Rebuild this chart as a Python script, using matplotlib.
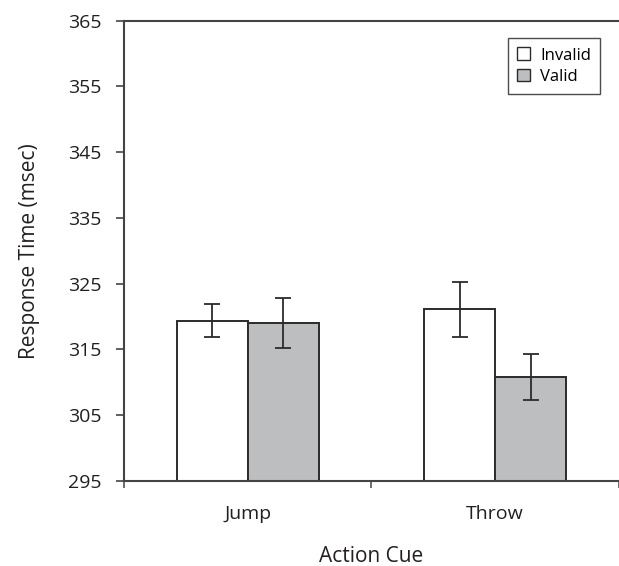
import numpy as np
import matplotlib.pyplot as plt
from matplotlib.patches import Patch

# Data
categories = ['Jump', 'Throw']
invalid_rt = [319.4, 321.1]
invalid_err = [2.5, 4.2]
valid_rt = [319.0, 310.8]
valid_err = [3.8, 3.5]

plt.rcParams['font.family'] = ['Open Sans', 'DejaVu Sans']

fig = plt.figure(figsize=(6.19, 5.66), dpi=100)
ax = fig.add_axes([0.2003, 0.1502, 0.7997, 0.8132])

x = np.arange(len(categories)) + 0.5
w = 0.287
edge = '#2b2b2b'
base = 295

ax.bar(x - w / 2, np.array(invalid_rt) - base, w, bottom=base, color='white',
       edgecolor=edge, linewidth=1.4, zorder=2)
ax.bar(x + w / 2, np.array(valid_rt) - base, w, bottom=base, color='#bcbec0',
       edgecolor=edge, linewidth=1.4, zorder=2)
ax.errorbar(x - w / 2, invalid_rt, yerr=invalid_err, fmt='none', ecolor=edge,
            elinewidth=1.3, capsize=5.5, capthick=1.3, zorder=3)
ax.errorbar(x + w / 2, valid_rt, yerr=valid_err, fmt='none', ecolor=edge,
            elinewidth=1.3, capsize=5.5, capthick=1.3, zorder=3)

ax.set_xlim(0, 2)
ax.set_ylim(295, 365)
ax.set_yticks(np.arange(295, 366, 10))

# category labels sit between the tick marks
ax.set_xticks([0, 1, 2])
ax.set_xticklabels([])
ax.set_xticks(x, minor=True)
ax.set_xticklabels(categories, minor=True)
ax.tick_params(axis='x', which='minor', length=0, pad=17, labelsize=14, colors='#231f20')
ax.tick_params(axis='x', which='major', length=5, width=1.2, direction='out', color='#555555')
ax.tick_params(axis='y', length=6, width=1.2, direction='out', pad=10,
               labelsize=14, color='#444444', labelcolor='#231f20')

for s in ['left', 'bottom', 'top']:
    ax.spines[s].set_color('#444444')
    ax.spines[s].set_linewidth(1.5)
ax.spines['right'].set_visible(False)

ax.set_ylabel('Response Time (msec)', fontsize=15, color='#231f20', labelpad=20)
ax.set_xlabel('Action Cue', fontsize=15, color='#231f20', labelpad=17)

handles = [Patch(facecolor='white', edgecolor=edge, linewidth=1.0, label='Invalid'),
           Patch(facecolor='#bcbec0', edgecolor=edge, linewidth=1.0, label='Valid')]
leg = ax.legend(handles=handles, loc='upper right', bbox_to_anchor=(0.962, 0.962),
                borderaxespad=0, fontsize=12, frameon=True, fancybox=False,
                handlelength=0.8, handleheight=0.8, handletextpad=0.6,
                borderpad=0.55, labelspacing=0.3)
leg.get_frame().set_edgecolor('#231f20')
leg.get_frame().set_linewidth(1.0)

fig.savefig('out.png', dpi=100)
